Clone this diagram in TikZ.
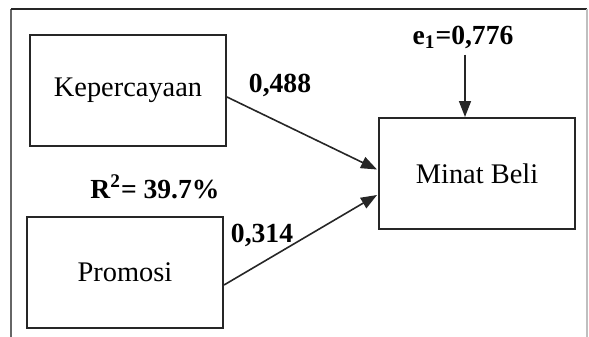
\documentclass[tikz,border=0pt]{standalone}
\usepackage{fontspec}
\setmainfont{Liberation Serif}
\usetikzlibrary{arrows.meta,calc}
\tikzset{
  varbox/.style={draw=black!85, line width=1pt, minimum width=98pt, minimum height=55.5pt,
    inner sep=0pt, font=\fontsize{14.2}{16}\selectfont},
  coef/.style={inner sep=0pt, font=\fontsize{13.8}{16}\selectfont\bfseries},
  path/.style={draw=black!85, line width=0.8pt, -{Triangle[length=8pt,width=6pt]}}
}
\begin{document}
\begin{tikzpicture}[x=0.5pt,y=-0.5pt]
\useasboundingbox (0,0) rectangle (589,337);
% outer frame, open at the bottom
\draw[gray!80!black, line width=1pt] (11,337) -- (11,9);
\draw[black!85, line width=1pt] (11,9) -- (587,9);
\draw[gray!50, line width=1pt] (587,9) -- (587,337);
% variables
\node[varbox] (kep) at (128,90.5) {Kepercayaan};
\node[varbox] (pro) at (125,272) {Promosi};
\node[varbox] (minat) at (477,173.5) {Minat Beli};
% coefficients
\node[coef] (c1) at (280,85) {0,488};
\node[coef] (c2) at (262,235) {0,314};
\node[coef] (r2) at (155,187) {R\textsuperscript{2}= 39.7\%};
\node[coef] (e1) at (463,37) {e\textsubscript{1}=0,776};
% paths
\draw[path] ([shift={(0,6.5)}]kep.east) -- ([shift={(-1,-4)}]minat.west);
\draw[path] ([shift={(0,13)}]pro.east) -- ([shift={(-1,21.5)}]minat.west);
\draw[path] ([shift={(2,6)}]e1.south) -- ([shift={(-12,0)}]minat.north);
\end{tikzpicture}
\end{document}
